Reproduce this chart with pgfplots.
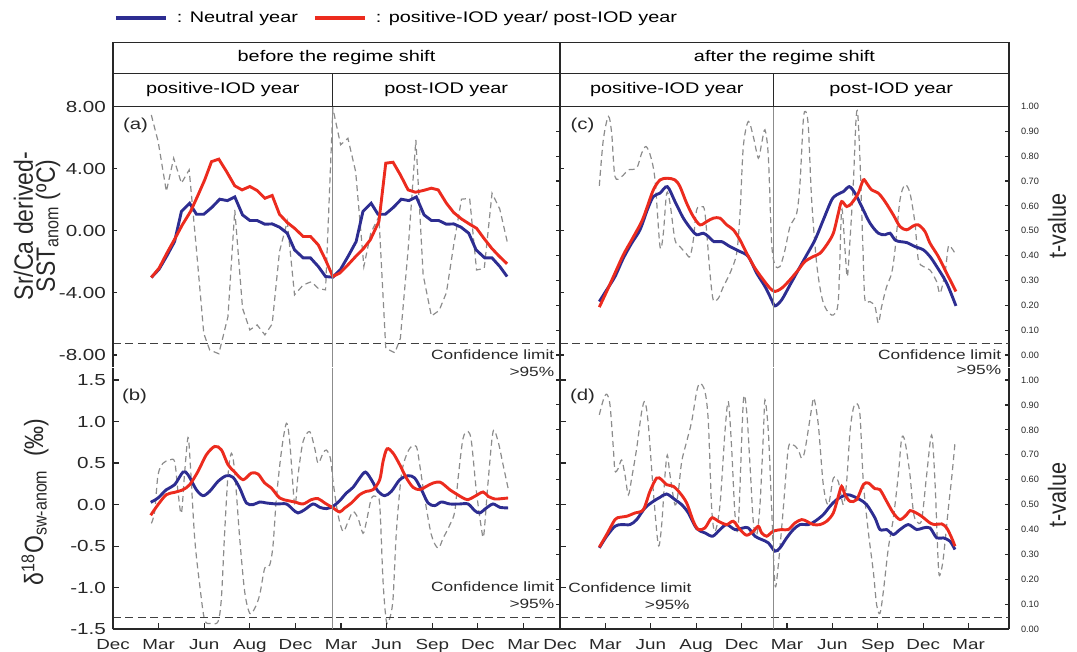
\documentclass[border=0pt]{standalone}
\usepackage{fontspec}
\setmainfont{Liberation Sans}[FakeStretch=1.29]
\newfontfamily\plainfont{Liberation Sans}
\newfontfamily\rotfont{Liberation Sans}[FakeStretch=0.87]
\usepackage{pgfplots}
\pgfplotsset{compat=1.18}
\definecolor{nblue}{RGB}{45,45,145}
\definecolor{pred}{RGB}{236,43,30}
\definecolor{dgray}{RGB}{140,140,140}
\definecolor{fr}{RGB}{40,40,40}
\pgfplotsset{
  base/.style={scale only axis, anchor=north west, xmin=0,
    axis line style={-, fr, line width=0.9pt},
    tick style={fr, line width=0.6pt},
    tick align=inside, major tick length=2pt,
    yticklabel style={font=\fontsize{8}{9}\selectfont, text=fr},
    xticklabel style={font=\fontsize{7.3}{8}\selectfont, text=fr, yshift=-1.4pt}},
  tax/.style={base, axis x line=none, axis y line*=right,
    ytick={0,0.1,0.2,0.3,0.4,0.5,0.6,0.7,0.8,0.9,1}},
  taxlab/.style={yticklabels={0.00,0.10,0.20,0.30,0.40,0.50,0.60,0.70,0.80,0.90,1.00},
    yticklabel style={font=\plainfont\fontsize{4.6}{5}\selectfont, xshift=2.5pt}},
  mainup/.style={base, axis x line=none, axis y line*=left},
  mainlo/.style={base, axis x line*=bottom, axis y line*=left, xtick={0,1,2,3,4,5,6,7,8,9},
    xticklabels={Dec,Mar,Jun,Aug,Dec,Mar,Jun,Sep,Dec,Mar}, major tick length=3pt},
  bl/.style={nblue, line width=1.45pt},
  rd/.style={pred, line width=1.45pt},
  graydash/.style={dgray, line width=0.6pt, dash pattern=on 3pt off 2pt},
  conf/.style={black!75, line width=0.7pt, dash pattern=on 4pt off 2.2pt},
  regime/.style={black!45, line width=0.5pt},
}
\begin{document}
\begin{tikzpicture}
\useasboundingbox (0pt,0pt) rectangle (538.5pt,-326pt);

% ---------------- panel (a) ----------------
\begin{axis}[tax, at={(56.5pt,-53.25pt)}, width=223.5pt, height=130.5pt, xmax=9.80, ymin=-0.0503, ymax=1, yticklabels={}]
\addplot[graydash] coordinates {(0.84,0.966) (0.99,0.859) (1.17,0.658) (1.33,0.792) (1.50,0.691) (1.67,0.745) (1.83,0.423) (1.99,0.087) (2.12,0.020) (2.32,0.005) (2.52,0.154) (2.67,0.584) (2.84,0.188) (3.00,0.101) (3.16,0.121) (3.33,0.081) (3.49,0.125) (3.65,0.416) (3.82,0.537) (3.98,0.242) (4.17,0.282) (4.35,0.295) (4.50,0.268) (4.66,0.262) (4.82,0.993) (4.99,0.846) (5.15,0.872) (5.32,0.738) (5.50,0.356) (5.65,0.490) (5.83,0.557) (5.98,0.027) (6.18,0.009) (6.30,0.067) (6.47,0.423) (6.64,0.866) (6.80,0.322) (6.98,0.157) (7.15,0.179) (7.31,0.251) (7.47,0.443) (7.64,0.627) (7.82,0.630) (7.97,0.342) (8.14,0.349) (8.31,0.651) (8.48,0.587) (8.65,0.450)};
\addplot[conf] coordinates {(0,0.047) (9.80,0.047)};
\end{axis}
\begin{axis}[mainup, at={(56.5pt,-53.25pt)}, width=223.5pt, height=130.5pt, xmax=9.80, ymin=-8.805, ymax=8,
  ytick={-8,-4,0,4,8}, yticklabels={-8.00,-4.00,0.00,4.00,8.00},
  legend columns=2,
  legend style={draw=none, fill=none, at={(0.002,1.339)}, anchor=west, inner sep=0pt, outer sep=0pt,
    font=\fontsize{7.7}{9}\selectfont, nodes={inner sep=0pt},
    /tikz/every odd column/.append style={column sep=4.5pt},
    /tikz/every even column/.append style={column sep=7.5pt}},
  legend image code/.code={\draw[#1, line width=2pt] (0pt,0pt) -- (25pt,0pt);}]
\addplot[bl] coordinates {(0.84,-3.01) (1.01,-2.48) (1.18,-1.62) (1.35,-0.70) (1.50,1.24) (1.68,1.77) (1.83,1.06) (1.99,1.06) (2.17,1.51) (2.34,2.03) (2.51,1.94) (2.67,2.18) (2.84,1.02) (3.00,0.66) (3.16,0.66) (3.33,0.42) (3.49,0.44) (3.65,0.23) (3.82,-0.16) (3.98,-1.23) (4.17,-1.75) (4.33,-1.75) (4.50,-2.30) (4.66,-2.95) (4.82,-2.99) (4.99,-2.48) (5.16,-1.62) (5.33,-0.70) (5.48,1.24) (5.66,1.77) (5.81,1.06) (5.97,1.06) (6.15,1.51) (6.32,2.03) (6.49,1.94) (6.65,2.18) (6.82,1.02) (6.98,0.66) (7.14,0.66) (7.31,0.42) (7.47,0.44) (7.63,0.23) (7.80,-0.16) (7.96,-1.23) (8.15,-1.75) (8.31,-1.75) (8.48,-2.30) (8.64,-2.95)};
\addlegendentry{: Neutral year}
\addplot[rd] coordinates {(0.84,-3.01) (1.01,-2.41) (1.18,-1.45) (1.35,-0.55) (1.52,0.38) (1.70,1.24) (1.85,2.20) (2.01,3.27) (2.16,4.45) (2.32,4.61) (2.49,3.81) (2.67,2.89) (2.83,2.63) (3.00,2.85) (3.16,2.59) (3.33,2.09) (3.49,2.27) (3.65,1.06) (3.82,0.53) (3.98,0.16) (4.17,-0.37) (4.33,-0.37) (4.50,-0.91) (4.66,-1.88) (4.82,-2.95) (4.97,-2.73) (5.15,-2.20) (5.32,-1.66) (5.48,-1.19) (5.64,-0.59) (5.83,0.59) (5.98,4.35) (6.14,4.41) (6.30,3.60) (6.47,2.63) (6.63,2.48) (6.80,2.59) (6.98,2.74) (7.13,2.63) (7.31,1.77) (7.47,1.17) (7.64,0.76) (7.81,0.44) (7.97,0.16) (8.13,-0.48) (8.30,-1.12) (8.46,-1.62) (8.64,-2.13)};
\addlegendentry{: positive-IOD year/ post-IOD year}
\addplot[regime, forget plot] coordinates {(4.82,-8.805) (4.82,8)};
\end{axis}

% ---------------- panel (c) ----------------
\begin{axis}[tax, taxlab, at={(280pt,-53.25pt)}, width=224.5pt, height=130.5pt, xmax=9.89, ymin=-0.0503, ymax=1]
\addplot[graydash, smooth] coordinates {(0.866,0.681) (0.954,0.866) (1.065,0.960) (1.138,0.893) (1.211,0.718) (1.358,0.718) (1.505,0.745) (1.689,0.752) (1.799,0.812) (1.894,0.839) (1.997,0.799) (2.093,0.705) (2.203,0.436) (2.276,0.490) (2.349,0.651) (2.423,0.611) (2.533,0.463) (2.643,0.436) (2.775,0.409) (2.863,0.396) (2.937,0.463) (3.010,0.584) (3.120,0.597) (3.194,0.570) (3.304,0.329) (3.377,0.221) (3.488,0.228) (3.598,0.275) (3.744,0.329) (3.891,0.409) (3.965,0.570) (4.038,0.839) (4.148,0.940) (4.258,0.879) (4.369,0.792) (4.442,0.852) (4.515,0.906) (4.589,0.799) (4.662,0.450) (4.736,0.362) (4.846,0.356) (4.956,0.423) (5.066,0.517) (5.213,0.570) (5.286,0.691) (5.360,0.946) (5.411,0.980) (5.470,0.919) (5.543,0.624) (5.653,0.369) (5.764,0.235) (5.874,0.181) (6.021,0.161) (6.131,0.221) (6.204,0.584) (6.278,0.423) (6.329,0.315) (6.388,0.463) (6.461,0.691) (6.520,0.946) (6.557,0.973) (6.608,0.785) (6.681,0.383) (6.718,0.221) (6.828,0.215) (6.938,0.195) (7.012,0.128) (7.085,0.195) (7.195,0.275) (7.305,0.329) (7.379,0.423) (7.489,0.624) (7.599,0.685) (7.709,0.651) (7.819,0.530) (7.893,0.383) (8.003,0.356) (8.150,0.342) (8.297,0.295) (8.370,0.248) (8.480,0.329) (8.554,0.436) (8.627,0.430) (8.722,0.403)};
\addplot[conf] coordinates {(0,0.047) (9.89,0.047)};
\end{axis}
\begin{axis}[mainup, at={(280pt,-53.25pt)}, width=224.5pt, height=130.5pt, xmax=9.89, ymin=-8.805, ymax=8,
  ytick={-8,-4,0,4,8}, yticklabels={}]
\addplot[bl, smooth] coordinates {(0.866,-4.56) (1.028,-3.81) (1.211,-2.95) (1.395,-1.77) (1.579,-0.80) (1.762,0.06) (1.924,1.35) (2.056,2.20) (2.203,2.42) (2.364,2.84) (2.533,1.88) (2.717,0.81) (2.900,0.06) (3.010,-0.26) (3.157,-0.16) (3.267,-0.37) (3.392,-0.70) (3.561,-0.70) (3.744,-1.02) (3.965,-1.34) (4.148,-1.66) (4.332,-2.73) (4.515,-3.59) (4.662,-4.45) (4.736,-4.84) (4.883,-4.45) (5.066,-3.49) (5.250,-2.52) (5.433,-1.56) (5.617,-0.59) (5.800,0.70) (5.984,1.98) (6.094,2.31) (6.241,2.52) (6.373,2.84) (6.498,2.42) (6.645,1.56) (6.828,0.49) (7.012,-0.16) (7.159,-0.26) (7.269,-0.16) (7.379,-0.59) (7.489,-0.70) (7.636,-0.76) (7.819,-1.02) (8.003,-1.23) (8.150,-1.66) (8.297,-2.30) (8.517,-3.37) (8.722,-4.84)};
\addplot[rd, smooth] coordinates {(0.866,-4.92) (1.028,-3.91) (1.211,-2.73) (1.395,-1.55) (1.579,-0.59) (1.799,0.59) (1.924,1.56) (2.056,2.63) (2.203,3.27) (2.364,3.38) (2.533,3.27) (2.643,2.84) (2.790,1.77) (2.937,0.91) (3.084,0.38) (3.231,0.59) (3.377,0.81) (3.524,0.81) (3.671,0.38) (3.818,0.06) (3.965,-0.59) (4.112,-1.45) (4.295,-2.41) (4.479,-3.16) (4.626,-3.70) (4.736,-3.91) (4.883,-3.70) (5.066,-3.16) (5.250,-2.52) (5.396,-1.98) (5.580,-1.66) (5.727,-1.45) (5.874,-0.91) (6.021,-0.16) (6.131,1.13) (6.204,1.88) (6.314,1.56) (6.424,1.77) (6.571,2.42) (6.681,3.27) (6.755,3.06) (6.865,2.63) (7.012,2.42) (7.159,1.88) (7.342,1.02) (7.489,0.27) (7.636,0.06) (7.783,0.31) (7.893,0.38) (8.040,-0.05) (8.150,-0.80) (8.333,-1.66) (8.517,-2.73) (8.722,-3.91)};
\addplot[regime] coordinates {(4.71,-8.805) (4.71,8)};
\end{axis}

% ---------------- panel (b) ----------------
\begin{axis}[tax, at={(56.5pt,-183.75pt)}, width=223.5pt, height=130.9pt, xmax=9.80, ymin=0, ymax=1.05, yticklabels={}]
\addplot[graydash, smooth] coordinates {(0.841,0.425) (0.914,0.472) (0.987,0.619) (1.096,0.666) (1.243,0.679) (1.352,0.672) (1.425,0.552) (1.499,0.465) (1.572,0.632) (1.645,0.769) (1.696,0.659) (1.791,0.365) (1.901,0.178) (2.010,0.037) (2.156,0.024) (2.303,0.031) (2.376,0.124) (2.449,0.392) (2.522,0.619) (2.595,0.706) (2.668,0.632) (2.778,0.365) (2.887,0.151) (2.997,0.064) (3.107,0.084) (3.216,0.138) (3.326,0.245) (3.436,0.258) (3.509,0.338) (3.582,0.525) (3.692,0.713) (3.801,0.826) (3.874,0.753) (3.984,0.499) (4.057,0.619) (4.167,0.753) (4.313,0.793) (4.423,0.726) (4.496,0.666) (4.605,0.706) (4.678,0.719) (4.766,0.686) (4.825,0.592) (4.934,0.459) (5.044,0.392) (5.154,0.432) (5.263,0.472) (5.373,0.445) (5.482,0.385) (5.556,0.432) (5.665,0.525) (5.775,0.532) (5.848,0.499) (5.921,0.191) (5.994,0.031) (6.067,0.044) (6.140,0.124) (6.213,0.392) (6.323,0.619) (6.433,0.699) (6.542,0.733) (6.652,0.733) (6.725,0.659) (6.835,0.525) (6.981,0.378) (7.127,0.325) (7.237,0.365) (7.383,0.418) (7.493,0.472) (7.566,0.606) (7.675,0.766) (7.785,0.793) (7.858,0.753) (7.968,0.552) (8.077,0.405) (8.129,0.378) (8.224,0.592) (8.333,0.793) (8.443,0.753) (8.553,0.659) (8.662,0.566)};
\addplot[conf] coordinates {(0,0.047) (9.80,0.047)};
\end{axis}
\begin{axis}[mainlo, at={(56.5pt,-183.75pt)}, width=223.5pt, height=130.9pt, xmax=9.80, ymin=-1.5, ymax=1.65,
  ytick={-1.5,-1,-0.5,0,0.5,1,1.5}, yticklabels={-1.5,-1.0,-0.5,0.0,0.5,1.0,1.5}]
\addplot[bl, smooth] coordinates {(0.826,0.028) (0.987,0.080) (1.170,0.180) (1.352,0.240) (1.535,0.392) (1.645,0.360) (1.827,0.180) (1.974,0.108) (2.120,0.160) (2.303,0.280) (2.485,0.348) (2.632,0.328) (2.778,0.200) (2.924,0.020) (3.070,0.000) (3.216,0.032) (3.363,0.020) (3.582,0.008) (3.801,0.008) (3.947,-0.060) (4.057,-0.100) (4.203,-0.060) (4.386,0.008) (4.532,-0.032) (4.678,-0.048) (4.825,-0.020) (4.971,0.048) (5.117,0.140) (5.263,0.208) (5.409,0.320) (5.534,0.392) (5.665,0.300) (5.811,0.160) (5.958,0.108) (6.104,0.160) (6.287,0.300) (6.469,0.348) (6.615,0.320) (6.762,0.180) (6.908,0.020) (7.054,-0.012) (7.200,0.032) (7.383,0.008) (7.602,0.008) (7.785,0.008) (7.931,-0.072) (8.041,-0.100) (8.187,-0.040) (8.333,0.008) (8.480,-0.032) (8.662,-0.040)};
\addplot[rd, smooth] coordinates {(0.826,-0.128) (0.987,0.000) (1.170,0.120) (1.352,0.148) (1.535,0.180) (1.681,0.240) (1.864,0.400) (2.047,0.600) (2.230,0.700) (2.376,0.660) (2.522,0.480) (2.668,0.392) (2.851,0.300) (3.034,0.380) (3.180,0.368) (3.326,0.260) (3.472,0.200) (3.655,0.080) (3.838,0.048) (3.984,0.032) (4.167,0.008) (4.349,0.060) (4.496,0.072) (4.642,0.020) (4.825,-0.040) (4.971,-0.088) (5.080,-0.040) (5.227,0.020) (5.409,0.120) (5.556,0.160) (5.702,0.180) (5.848,0.300) (5.921,0.520) (6.009,0.672) (6.140,0.620) (6.287,0.480) (6.433,0.320) (6.579,0.208) (6.725,0.180) (6.871,0.220) (7.018,0.260) (7.164,0.272) (7.273,0.232) (7.383,0.180) (7.529,0.128) (7.675,0.080) (7.785,0.060) (7.931,0.100) (8.114,0.152) (8.224,0.100) (8.370,0.068) (8.516,0.072) (8.662,0.080)};
\addplot[regime] coordinates {(4.82,-1.5) (4.82,1.65)};
\end{axis}

% ---------------- panel (d) ----------------
\begin{axis}[tax, taxlab, at={(280pt,-183.75pt)}, width=224.5pt, height=130.9pt, xmax=9.89, ymin=0, ymax=1.05]
\addplot[graydash, smooth] coordinates {(0.866,0.860) (0.954,0.920) (1.028,0.943) (1.101,0.900) (1.175,0.726) (1.211,0.635) (1.285,0.646) (1.358,0.679) (1.432,0.619) (1.505,0.539) (1.579,0.606) (1.689,0.726) (1.799,0.873) (1.872,0.913) (1.946,0.820) (2.056,0.552) (2.166,0.338) (2.239,0.418) (2.313,0.619) (2.364,0.699) (2.423,0.619) (2.533,0.499) (2.606,0.552) (2.680,0.672) (2.790,0.753) (2.900,0.833) (3.010,0.953) (3.084,0.987) (3.194,0.953) (3.267,0.833) (3.341,0.485) (3.414,0.392) (3.524,0.499) (3.634,0.793) (3.708,0.913) (3.781,0.726) (3.855,0.459) (3.928,0.418) (4.038,0.913) (4.112,0.873) (4.185,0.659) (4.258,0.432) (4.332,0.378) (4.405,0.499) (4.479,0.779) (4.515,0.920) (4.589,0.793) (4.662,0.485) (4.736,0.178) (4.809,0.258) (4.919,0.485) (5.029,0.726) (5.140,0.739) (5.250,0.719) (5.323,0.686) (5.396,0.719) (5.543,0.886) (5.595,0.926) (5.690,0.820) (5.800,0.579) (5.910,0.499) (6.021,0.606) (6.131,0.592) (6.241,0.499) (6.314,0.592) (6.388,0.793) (6.461,0.886) (6.535,0.906) (6.608,0.860) (6.681,0.592) (6.791,0.392) (6.902,0.231) (6.975,0.098) (7.048,0.064) (7.122,0.151) (7.232,0.325) (7.342,0.445) (7.452,0.619) (7.526,0.766) (7.599,0.753) (7.709,0.619) (7.783,0.472) (7.856,0.432) (7.966,0.439) (8.076,0.619) (8.186,0.779) (8.260,0.592) (8.333,0.258) (8.370,0.218) (8.443,0.285) (8.554,0.485) (8.627,0.606) (8.700,0.746)};
\addplot[conf] coordinates {(0,0.047) (9.89,0.047)};
\end{axis}
\begin{axis}[mainlo, at={(280pt,-183.75pt)}, width=224.5pt, height=130.9pt, xmax=9.89, ymin=-1.5, ymax=1.65,
  ytick={-1.5,-1,-0.5,0,0.5,1,1.5}, yticklabels={}]
\addplot[bl, smooth] coordinates {(0.866,-0.520) (1.028,-0.380) (1.211,-0.260) (1.358,-0.240) (1.542,-0.240) (1.689,-0.180) (1.872,-0.040) (2.056,0.040) (2.203,0.088) (2.349,0.128) (2.533,0.060) (2.680,0.000) (2.827,-0.100) (3.010,-0.288) (3.194,-0.340) (3.363,-0.380) (3.524,-0.300) (3.671,-0.240) (3.855,-0.300) (4.038,-0.280) (4.148,-0.280) (4.295,-0.380) (4.442,-0.420) (4.589,-0.460) (4.736,-0.560) (4.846,-0.520) (4.993,-0.400) (5.140,-0.300) (5.286,-0.240) (5.470,-0.240) (5.617,-0.200) (5.800,-0.120) (5.947,-0.020) (6.094,0.060) (6.314,0.120) (6.461,0.100) (6.608,0.060) (6.755,0.000) (6.938,-0.160) (7.048,-0.300) (7.195,-0.300) (7.342,-0.360) (7.489,-0.300) (7.672,-0.240) (7.856,-0.300) (8.003,-0.280) (8.150,-0.280) (8.297,-0.400) (8.443,-0.400) (8.590,-0.440) (8.700,-0.540)};
\addplot[rd, smooth] coordinates {(0.866,-0.512) (1.028,-0.360) (1.211,-0.180) (1.322,-0.152) (1.468,-0.140) (1.652,-0.100) (1.836,-0.060) (1.982,0.160) (2.129,0.320) (2.239,0.300) (2.349,0.240) (2.496,0.220) (2.643,0.140) (2.790,0.020) (2.937,-0.200) (3.047,-0.300) (3.194,-0.280) (3.341,-0.160) (3.488,-0.200) (3.671,-0.240) (3.818,-0.200) (3.965,-0.300) (4.112,-0.368) (4.258,-0.320) (4.369,-0.260) (4.442,-0.340) (4.552,-0.380) (4.699,-0.320) (4.883,-0.300) (5.029,-0.300) (5.176,-0.220) (5.323,-0.180) (5.433,-0.200) (5.580,-0.240) (5.727,-0.240) (5.874,-0.200) (6.021,-0.100) (6.131,0.100) (6.204,0.220) (6.278,0.120) (6.388,0.040) (6.535,0.060) (6.681,0.240) (6.791,0.260) (6.938,0.192) (7.048,0.180) (7.195,0.040) (7.342,-0.100) (7.489,-0.180) (7.636,-0.120) (7.709,-0.072) (7.819,-0.092) (7.966,-0.140) (8.150,-0.220) (8.260,-0.240) (8.407,-0.232) (8.517,-0.280) (8.627,-0.400) (8.700,-0.500)};
\addplot[regime] coordinates {(4.71,-1.5) (4.71,1.65)};
\end{axis}

% ---------------- header table ----------------
\draw[fr, line width=0.9pt] (56.5pt,-21.25pt) rectangle (504.5pt,-53.25pt);
\draw[fr, line width=0.9pt] (56.5pt,-36.75pt) -- (504.5pt,-36.75pt);
\draw[fr, line width=0.9pt] (280pt,-21.25pt) -- (280pt,-53.25pt);
\draw[fr, line width=0.9pt] (166.25pt,-36.75pt) -- (166.25pt,-53.25pt);
\draw[fr, line width=0.9pt] (386.75pt,-36.75pt) -- (386.75pt,-53.25pt);
\begin{scope}[every node/.style={font=\fontsize{7.7}{9}\selectfont, text=black, inner sep=0pt}]
\node at (168.25pt,-29pt) {before the regime shift};
\node at (392.25pt,-29pt) {after the regime shift};
\node at (111.4pt,-45pt) {positive-IOD year};
\node at (223.1pt,-45pt) {post-IOD year};
\node at (333.4pt,-45pt) {positive-IOD year};
\node at (445.6pt,-45pt) {post-IOD year};
\end{scope}

% ---------------- panel labels ----------------
\begin{scope}[every node/.style={font=\fontsize{7.9}{9}\selectfont, text=fr, inner sep=0pt}]
\node at (67.75pt,-62.5pt) {(a)};
\node at (291.25pt,-62.5pt) {(c)};
\node at (67.25pt,-198pt) {(b)};
\node at (291.25pt,-198pt) {(d)};
\end{scope}
\begin{scope}[every node/.style={font=\fontsize{6.7}{8}\selectfont, text=fr, inner sep=0pt}]
\node[anchor=east] at (277.3pt,-177.5pt) {Confidence limit};
\node[anchor=east] at (277.3pt,-186pt) {>95\%};
\node[anchor=east] at (500.8pt,-177.5pt) {Confidence limit};
\node[anchor=east] at (500.8pt,-185pt) {>95\%};
\node[anchor=east] at (277.3pt,-293.5pt) {Confidence limit};
\node[anchor=east] at (277.3pt,-302pt) {>95\%};
\node[anchor=west] at (284pt,-293.75pt) {Confidence limit};
\node[anchor=east] at (345pt,-302.25pt) {>95\%};
\end{scope}

% ---------------- axis titles ----------------
\node[rotate=90, align=center, inner sep=0pt, font=\rotfont\fontsize{13.2}{11}\selectfont, text=fr] at (18.5pt,-113pt) {Sr/Ca derived-\\SST\textsubscript{anom} (ºC)};
\node[rotate=90, inner sep=0pt, font=\rotfont\fontsize{13.2}{11}\selectfont, text=fr] at (17.5pt,-251pt) {δ\textsuperscript{18}O\textsubscript{sw-anom}\ \ (‰)};
\node[rotate=90, inner sep=0pt, font=\rotfont\fontsize{12.45}{14}\selectfont, text=fr] at (528.5pt,-113pt) {t-value};
\node[rotate=90, inner sep=0pt, font=\rotfont\fontsize{12.45}{14}\selectfont, text=fr] at (528.5pt,-247.5pt) {t-value};
\end{tikzpicture}
\end{document}
